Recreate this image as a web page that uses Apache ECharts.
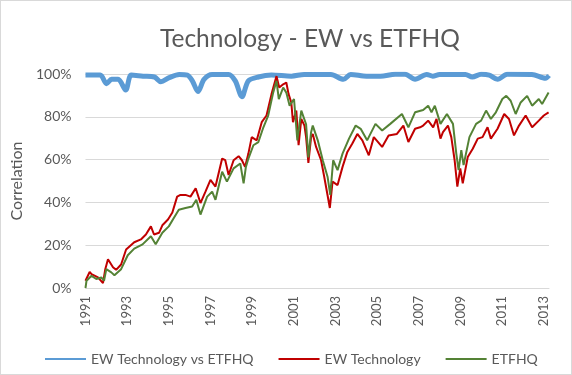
<!DOCTYPE html>
<html>
<head>
<meta charset="utf-8">
<script src="https://cdn.jsdelivr.net/npm/echarts@6/dist/echarts.min.js"></script>
<style>
  html, body { margin: 0; padding: 0; background: #fff; }
  #chart { width: 572px; height: 375px; box-sizing: border-box; border: 1px solid #d9d9d9; }
</style>
</head>
<body>
<div id="chart"></div>
<script>
// [year, correlation %]
const corrPoints = [
  [1991.0, 99.5], [1991.71, 99.5], [1992.01, 95.5], [1992.25, 97.5], [1992.57, 97.5],
  [1992.93, 92.5], [1993.2, 99.5], [1993.76, 99], [1994.31, 98.6], [1994.62, 96.4],
  [1995.02, 98.3], [1995.5, 99.8], [1995.89, 99.5], [1996.13, 96.8], [1996.4, 91.8],
  [1996.69, 97.5], [1997.08, 99.8], [1997.87, 99.8], [1998.19, 96.8], [1998.51, 89.4],
  [1998.82, 96.8], [1999.3, 98.6], [1999.93, 99.5], [2000.88, 99], [2001.5, 99.8],
  [2002.78, 99.8], [2003.38, 97.5], [2003.73, 99.8], [2004.49, 99], [2005.16, 99],
  [2005.87, 99.9], [2006.34, 99.9], [2006.82, 97.5], [2007.38, 99.8], [2007.67, 99],
  [2008.0, 99.8], [2009.24, 99.8], [2009.57, 98.6], [2009.99, 99.9], [2010.38, 99.5],
  [2010.78, 97.5], [2011.25, 99.9], [2012.43, 99.8], [2013.08, 98], [2013.25, 99.3]
];

const ewTechPoints = [
  [1991.0, 3.4], [1991.2, 7.5], [1991.29, 6.5], [1991.6, 5], [1991.84, 2.3],
  [1991.95, 8.8], [1992.08, 13.4], [1992.32, 9.7], [1992.47, 8.5], [1992.71, 11],
  [1992.95, 18], [1993.34, 21.4], [1993.66, 22.7], [1993.9, 25], [1994.14, 28.8],
  [1994.29, 25], [1994.53, 25.8], [1994.69, 29.3], [1994.96, 32], [1995.17, 35.3],
  [1995.4, 42.7], [1995.56, 43.5], [1995.8, 43.5], [1996.04, 42.7], [1996.29, 46.6],
  [1996.52, 39.7], [1996.76, 45], [1997.0, 50.5], [1997.24, 47.4], [1997.56, 60.5],
  [1997.71, 59.7], [1997.87, 52.8], [1998.11, 59.7], [1998.35, 61.6], [1998.51, 59.7],
  [1998.66, 56.6], [1998.82, 62.8], [1998.98, 70.5], [1999.22, 69], [1999.46, 77.5],
  [1999.69, 80.6], [1999.93, 90.6], [2000.17, 99], [2000.3, 93.7], [2000.49, 95.2],
  [2000.64, 96], [2000.75, 90.6], [2000.88, 86.7], [2000.96, 77.5], [2001.12, 82.9],
  [2001.23, 66.7], [2001.36, 79], [2001.51, 75.9], [2001.59, 70.5], [2001.7, 58.5],
  [2001.83, 70.5], [2001.91, 72], [2002.07, 65.9], [2002.31, 59.7], [2002.46, 52],
  [2002.59, 45], [2002.73, 37.4], [2002.86, 49.7], [2003.1, 48.1], [2003.34, 56.6],
  [2003.57, 63.6], [2003.81, 67.5], [2004.05, 72], [2004.29, 69], [2004.6, 62],
  [2004.84, 70.5], [2005.24, 65.9], [2005.55, 71.3], [2005.95, 72], [2006.26, 75.9],
  [2006.5, 68.2], [2006.82, 74.4], [2007.06, 75.1], [2007.21, 75.9], [2007.45, 78.2],
  [2007.69, 75.1], [2007.85, 79], [2008.04, 69.8], [2008.16, 72.8], [2008.4, 75.9],
  [2008.56, 70.5], [2008.72, 59.7], [2008.85, 47.4], [2008.99, 55.9], [2009.11, 48.9],
  [2009.35, 61.2], [2009.59, 65.1], [2009.83, 69.8], [2010.06, 70.5], [2010.3, 75.1],
  [2010.46, 69.8], [2010.78, 74.4], [2011.1, 81.3], [2011.33, 79], [2011.57, 71.3],
  [2011.81, 75.9], [2012.13, 80.6], [2012.44, 75.1], [2012.76, 78.2], [2013.0, 80.6],
  [2013.23, 82.1]
];

const etfhqPoints = [
  [1991.0, 0], [1991.05, 3.4], [1991.29, 5.7], [1991.52, 4.2], [1991.76, 4.9],
  [1991.89, 3.4], [1992.0, 8.8], [1992.24, 7.3], [1992.39, 6], [1992.71, 8.8],
  [1993.03, 15.3], [1993.34, 18.4], [1993.74, 20.4], [1994.14, 24.2], [1994.37, 20.4],
  [1994.69, 25.8], [1995.0, 28.8], [1995.24, 32.7], [1995.48, 36.6], [1995.8, 37.4],
  [1996.12, 38.1], [1996.32, 41.2], [1996.52, 34.3], [1996.84, 42.7], [1997.08, 45],
  [1997.24, 41.2], [1997.56, 54.3], [1997.79, 49.7], [1998.11, 55.9], [1998.43, 58.2],
  [1998.59, 48.9], [1998.7, 56.6], [1998.82, 60.5], [1999.06, 66.7], [1999.3, 68.2],
  [1999.54, 75.1], [1999.77, 80.6], [2000.01, 91.3], [2000.17, 96.8], [2000.28, 88.3],
  [2000.49, 93.7], [2000.64, 91.3], [2000.8, 85.2], [2001.01, 88.3], [2001.17, 69],
  [2001.36, 82.9], [2001.59, 76.5], [2001.7, 61], [2001.83, 72.8], [2001.91, 75.9],
  [2002.15, 69], [2002.39, 59.7], [2002.62, 52], [2002.75, 43.5], [2002.89, 59.7],
  [2003.1, 55.1], [2003.34, 62.8], [2003.65, 69.8], [2003.97, 75.9], [2004.21, 74.4],
  [2004.52, 69], [2004.92, 76.7], [2005.24, 73.6], [2005.63, 76.7], [2006.19, 81.3],
  [2006.5, 75.1], [2006.82, 82.1], [2007.21, 83.2], [2007.45, 85.2], [2007.61, 82.1],
  [2007.77, 85.2], [2008.04, 76.7], [2008.35, 81.3], [2008.64, 76.7], [2008.8, 62.8],
  [2008.91, 55.1], [2009.04, 64.4], [2009.15, 57.4], [2009.43, 70.5], [2009.75, 76.7],
  [2009.99, 78.2], [2010.23, 82.9], [2010.46, 79], [2010.7, 82.1], [2011.01, 88.3],
  [2011.2, 89.8], [2011.41, 87.5], [2011.65, 81.3], [2011.89, 86.7], [2012.2, 89.8],
  [2012.44, 85.2], [2012.76, 88.3], [2012.92, 86], [2013.23, 91.3]
];

const seriesNames = ['EW Technology vs ETFHQ', 'EW Technology', 'ETFHQ'];
const yearTicks = { min: 1991, max: 2013.25, step: 2 };

const textColor = '#595959';
const font = 'Lato, "Open Sans", sans-serif';

const chart = echarts.init(document.getElementById('chart'));
chart.setOption({
  animation: false,
  title: {
    text: 'Technology - EW vs ETFHQ',
    left: 154,
    top: 21,
    textStyle: { fontFamily: font, fontSize: 24.5, fontWeight: 'normal', color: textColor }
  },
  grid: { left: 82, right: 22, top: 73, bottom: 86 },
  legend: {
    top: 346,
    left: 38,
    itemWidth: 41,
    itemHeight: 12,
    itemGap: 24,
    itemStyle: { opacity: 0 },
    textStyle: { fontFamily: font, fontSize: 14, color: textColor },
    data: seriesNames
  },
  xAxis: {
    type: 'value',
    min: yearTicks.min,
    max: yearTicks.max,
    interval: yearTicks.step,
    axisLine: { show: true, lineStyle: { color: '#d9d9d9' } },
    axisTick: { show: false },
    splitLine: { show: false },
    axisLabel: {
      rotate: 90,
      margin: 8,
      fontFamily: font,
      fontSize: 13,
      color: textColor,
      showMaxLabel: false,
      formatter: v => (Number.isInteger(v) ? String(v) : '')
    }
  },
  yAxis: {
    type: 'value',
    min: 0,
    max: 100,
    interval: 20,
    name: 'Correlation',
    nameLocation: 'middle',
    nameGap: 50,
    nameTextStyle: { fontFamily: font, fontSize: 16, color: textColor },
    axisLine: { show: false },
    axisTick: { show: false },
    splitLine: { lineStyle: { color: '#d9d9d9' } },
    axisLabel: { fontFamily: font, fontSize: 14, color: textColor, margin: 14, formatter: '{value}%' }
  },
  series: [
    {
      name: seriesNames[0],
      type: 'line',
      symbol: 'none',
      smooth: 0.3,
      data: corrPoints,
      lineStyle: { color: '#5b9bd5', width: 5 },
      itemStyle: { color: '#5b9bd5' }
    },
    {
      name: seriesNames[1],
      type: 'line',
      symbol: 'none',
      data: ewTechPoints,
      lineStyle: { color: '#c00000', width: 2 },
      itemStyle: { color: '#c00000' }
    },
    {
      name: seriesNames[2],
      type: 'line',
      symbol: 'none',
      data: etfhqPoints,
      lineStyle: { color: '#548235', width: 2 },
      itemStyle: { color: '#548235' }
    }
  ]
});
</script>
</body>
</html>
